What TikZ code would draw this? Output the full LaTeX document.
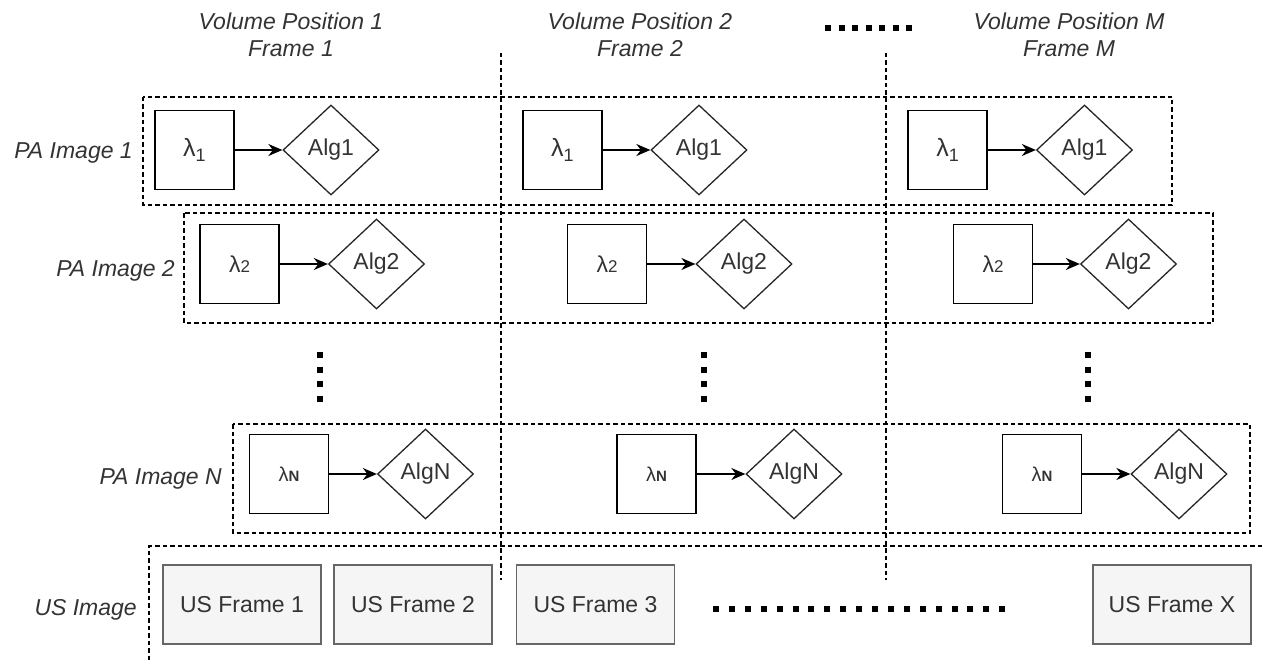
\documentclass[tikz,border=0pt]{standalone}
\usepackage{fontspec}
\setmainfont{Liberation Sans}
\usetikzlibrary{shapes.geometric,arrows.meta}

\definecolor{txtgray}{HTML}{333333}
\definecolor{usfill}{HTML}{F5F5F5}
\definecolor{usline}{HTML}{666666}

\newcommand{\lamone}{{\fontsize{25}{25}\selectfont λ}\raisebox{-5pt}{\fontsize{18}{18}\selectfont 1}}
\newcommand{\lamtwo}{λ{\fontsize{17}{17}\selectfont 2}}
\newcommand{\lamN}{{\fontsize{20}{20}\selectfont λ}{\fontsize{15}{15}\selectfont\bfseries N}}

\begin{document}
\begin{tikzpicture}[x=1pt,y=-1pt,
  font=\fontsize{23}{27}\selectfont,
  lam/.style={draw, line width=1.5pt, minimum width=79pt, minimum height=79pt, inner sep=0pt, text=txtgray},
  alg/.style={draw=black!85, diamond, line width=1.3pt, minimum width=96pt, minimum height=90pt, inner sep=0pt, text=txtgray},
  usframe/.style={draw=usline, fill=usfill, line width=1.5pt, minimum width=158pt, minimum height=79pt, inner sep=0pt, text=txtgray},
  lbl/.style={inner sep=0pt, text=txtgray, font=\fontsize{23}{27}\selectfont\itshape},
  dashbox/.style={line width=1.2pt, dash pattern=on 4.5pt off 3pt},
  feed/.style={-{Stealth[length=14pt,width=12pt]}, line width=1.5pt},
  dotrow/.style={line width=6pt}]
  \useasboundingbox (0,0) rectangle (1262,661);

  % ---- dashed frames ----
  \draw[dashbox] (143,97) rectangle (1172,205);
  \draw[dashbox] (184,213) rectangle (1213,323);
  \draw[dashbox] (233,424) rectangle (1250,533);
  \draw[dashbox] (1262,546) -- (149,546) -- (149,661);
  \draw[dashbox] (501,53) -- (501,580);
  \draw[dashbox] (886,53) -- (886,580);

  % ---- column headers ----
  \node[lbl, align=center, anchor=north] (vp1) at (291,13) {Volume Position 1\\Frame 1};
  \node[lbl, align=center, anchor=north] (vp2) at (640,13) {Volume Position 2\\Frame 2};
  \node[lbl, align=center, anchor=north] (vpM) at (1069,13) {Volume Position M\\Frame M};
  \draw[dotrow, dash pattern=on 6pt off 7.5pt] (825,28) -- (913,28);

  % ---- row labels ----
  \node[lbl, anchor=base east] (pa1) at (133,158) {PA Image 1};
  \node[lbl, anchor=base east] (pa2) at (175,276) {PA Image 2};
  \node[lbl, anchor=base east] (paN) at (222,484) {PA Image N};
  \node[lbl, anchor=base east] (us) at (137,615) {US Image};

  % ---- row 1 ----
  \node[lam] (lam1a) at (194.5,150) {\lamone};
  \node[alg] (alg1a) at (331,150) {Alg1};
  \node[lam] (lam1b) at (562.5,150) {\lamone};
  \node[alg] (alg1b) at (699,150) {Alg1};
  \node[lam] (lam1c) at (947.5,150) {\lamone};
  \node[alg] (alg1c) at (1084.5,150) {Alg1};
  \draw[feed] (lam1a) -- (alg1a);
  \draw[feed] (lam1b) -- (alg1b);
  \draw[feed] (lam1c) -- (alg1c);

  % ---- row 2 ----
  \node[lam] (lam2a) at (239.5,264) {\lamtwo};
  \node[alg] (alg2a) at (376.5,264) {Alg2};
  \node[lam] (lam2b) at (607,264) {\lamtwo};
  \node[alg] (alg2b) at (744,264) {Alg2};
  \node[lam] (lam2c) at (993,264) {\lamtwo};
  \node[alg] (alg2c) at (1128.5,264) {Alg2};
  \draw[feed] (lam2a) -- (alg2a);
  \draw[feed] (lam2b) -- (alg2b);
  \draw[feed] (lam2c) -- (alg2c);

  % ---- vertical ellipses ----
  \draw[dotrow, dash pattern=on 6pt off 8.7pt] (320,352) -- (320,402);
  \draw[dotrow, dash pattern=on 6pt off 8.7pt] (704,352) -- (704,402);
  \draw[dotrow, dash pattern=on 6pt off 8.7pt] (1088,352) -- (1088,402);

  % ---- row N ----
  \node[lam] (lamNa) at (289,474) {\lamN};
  \node[alg] (algNa) at (425.5,474) {AlgN};
  \node[lam] (lamNb) at (656.5,474) {\lamN};
  \node[alg] (algNb) at (794,474) {AlgN};
  \node[lam] (lamNc) at (1042,474) {\lamN};
  \node[alg] (algNc) at (1179,474) {AlgN};
  \draw[feed] (lamNa) -- (algNa);
  \draw[feed] (lamNb) -- (algNb);
  \draw[feed] (lamNc) -- (algNc);

  % ---- US frames ----
  \node[usframe] (us1) at (242,604.5) {US Frame 1};
  \node[usframe] (us2) at (413,604.5) {US Frame 2};
  \node[usframe] (us3) at (595.5,604.5) {US Frame 3};
  \node[usframe] (usX) at (1172,604.5) {US Frame X};
  \draw[dotrow, dash pattern=on 6pt off 9.9pt] (713,609) -- (1005,609);
\end{tikzpicture}
\end{document}
